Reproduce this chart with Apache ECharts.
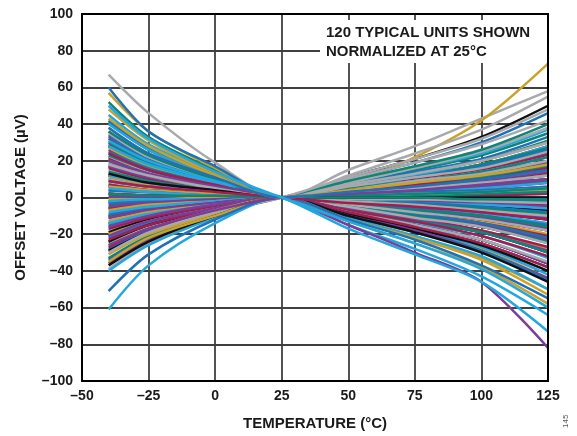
<!DOCTYPE html>
<html><head><meta charset="utf-8">
<script src="https://cdn.jsdelivr.net/npm/echarts@6/dist/echarts.min.js"></script>
<style>html,body{margin:0;padding:0;background:#fff}#c{width:577px;height:436px}</style>
</head><body><div id="c"></div>
<script>
// Temperatures (°C) at which each unit's offset is sampled
const temps = [-40, -25, 0, 25, 50, 75, 100, 125];
const xTicks = [-50, -25, 0, 25, 50, 75, 100, 125];
const yTicks = [-100, -80, -60, -40, -20, 0, 20, 40, 60, 80, 100];

// Offset voltage (µV) per unit, grouped by line colour
const grayUnits = [
 [67,46,19,0,15,28,43,58],[30,19,8,0,12,24,37,55],[22,14,6,0,10,19,29,42],[15,10,4,0,8,16,25,38],
 [8,5,2,0,7,13,20,30],[3,2,1,0,4,9,13,20],[-5,-3,-1,0,3,5,8,12],[-12,-8,-3,0,1,2,3,5],
 [-18,-11,-5,0,-1,-1,-2,-3],[-25,-16,-7,0,-2,-4,-7,-10],[-39,-25,-11,0,-4,-8,-12,-18],[35,22,10,0,-5,-11,-16,-25],
 [10,6,3,0,-8,-15,-23,-35],[-30,-19,-8,0,11,21,32,48],[18,12,5,0,6,11,16,25]];
const blueUnits = [
 [60,36,17,0,10,19,30,46],[42,27,12,0,7,14,21,33],[33,21,9,0,6,11,17,26],[25,16,7,0,4,8,13,20],
 [18,12,5,0,3,5,8,12],[10,6,3,0,1,3,4,6],[4,3,1,0,0,-1,-1,-2],[-3,-2,-1,0,-2,-3,-5,-8],
 [-9,-6,-3,0,-3,-6,-10,-15],[-15,-10,-4,0,-5,-9,-14,-22],[-22,-14,-6,0,-7,-13,-19,-30],[-28,-18,-8,0,-8,-16,-25,-38],
 [-34,-22,-10,0,-10,-19,-29,-45],[-51,-31,-12,0,-12,-23,-37,-55],[38,24,11,0,3,6,10,15]];
const lightBlueUnits = [
 [45,29,13,0,8,16,24,37],[40,26,11,0,6,12,18,28],[36,23,10,0,5,9,14,22],[28,18,8,0,3,6,10,15],
 [20,13,6,0,2,3,5,8],[12,8,3,0,0,0,0,0],[5,3,1,0,-1,-3,-4,-6],[-2,-1,-1,0,-3,-6,-9,-14],
 [-8,-5,-2,0,-6,-11,-16,-25],[-14,-9,-4,0,-7,-14,-21,-33],[-21,-13,-6,0,-9,-18,-27,-42],[-40,-26,-11,0,-11,-21,-32,-50],
 [-61,-37,-14,0,-15,-28,-43,-64],[31,20,9,0,-17,-31,-46,-73],[50,32,14,0,-13,-25,-39,-60]];
const goldUnits = [
 [57,36,16,0,7,22,42,73],[48,31,13,0,7,13,20,30],[38,24,11,0,5,9,14,22],[27,17,8,0,3,5,8,12],
 [19,12,5,0,1,2,3,4],[11,7,3,0,-1,-2,-3,-4],[6,4,2,0,-3,-5,-8,-12],[-1,-1,0,0,-4,-8,-13,-20],
 [-7,-4,-2,0,-6,-12,-18,-28],[-13,-8,-4,0,-8,-15,-23,-36],[-20,-13,-6,0,-10,-18,-28,-44],[-26,-17,-7,0,-11,-21,-33,-50],
 [-31,-20,-9,0,-13,-25,-38,-58],[-35,-22,-10,0,-12,-22,-34,-53],[43,28,12,0,4,8,12,18]];
const tealUnits = [
 [52,33,15,0,8,15,23,35],[41,26,11,0,7,13,20,31],[30,19,8,0,6,11,18,27],[23,15,6,0,5,9,14,22],
 [14,9,4,0,4,7,11,17],[7,4,2,0,2,4,7,10],[1,1,0,0,1,1,2,3],[-4,-3,-1,0,-1,-1,-2,-3],
 [-10,-6,-3,0,-2,-4,-6,-9],[-16,-10,-4,0,-4,-7,-10,-16],[-24,-15,-7,0,-5,-10,-16,-24],[-29,-19,-8,0,-7,-13,-19,-30],
 [-33,-21,-9,0,9,17,26,40],[36,23,10,0,1,2,3,5],[2,1,1,0,0,0,-1,-1]];
const maroonUnits = [
 [32,20,9,0,6,12,18,28],[26,17,7,0,5,10,15,23],[21,13,6,0,4,8,12,18],[16,10,4,0,3,5,8,13],
 [12,8,3,0,2,3,5,8],[7,4,2,0,0,1,1,2],[2,1,1,0,-1,-2,-3,-4],[-3,-2,-1,0,-2,-4,-7,-10],
 [-6,-4,-2,0,-4,-7,-10,-16],[-11,-7,-3,0,-5,-9,-14,-21],[-17,-11,-5,0,-6,-11,-18,-27],[-23,-15,-6,0,-7,-13,-21,-32],
 [-27,-17,-8,0,-8,-16,-25,-38],[24,15,7,0,4,7,10,16],[9,6,3,0,-3,-5,-8,-12]];
const purpleUnits = [
 [34,22,10,0,5,10,16,24],[29,19,8,0,4,8,12,19],[24,15,7,0,3,6,9,14],[17,11,5,0,2,4,6,9],
 [13,8,4,0,1,2,3,4],[9,6,3,0,0,0,0,0],[4,3,1,0,-1,-2,-3,-5],[0,0,0,0,-2,-5,-7,-11],
 [-5,-3,-1,0,-4,-7,-11,-17],[-11,-7,-3,0,-5,-10,-15,-23],[-16,-10,-4,0,-6,-12,-19,-29],[-21,-13,-6,0,-8,-15,-23,-36],
 [-36,-23,-10,0,-10,-18,-29,-44],[20,13,6,0,-15,-30,-46,-82],[-26,-17,-7,0,2,4,7,10]];
const blackUnits = [
 [28,18,8,0,11,21,33,50],[22,14,6,0,6,11,16,25],[17,11,5,0,4,7,11,17],[12,8,3,0,2,4,7,10],
 [6,4,2,0,1,1,2,3],[2,1,1,0,-1,-1,-2,-3],[-2,-1,-1,0,-2,-3,-5,-7],[-6,-4,-2,0,-3,-5,-8,-12],
 [-10,-6,-3,0,-4,-8,-12,-18],[-14,-9,-4,0,-5,-10,-16,-24],[-19,-12,-5,0,-7,-13,-19,-30],[-24,-15,-7,0,-8,-15,-23,-36],
 [-29,-19,-8,0,-9,-17,-26,-40],[-37,-24,-10,0,-10,-19,-30,-46],[13,8,4,0,0,0,0,0]];

const groups = [
  {units: grayUnits, color: '#a7a9ac'},
  {units: blackUnits, color: '#111111'},
  {units: tealUnits, color: '#0f8576'},
  {units: maroonUnits, color: '#a51d4f'},
  {units: purpleUnits, color: '#7b3d97'},
  {units: goldUnits, color: '#c9a12b'},
  {units: blueUnits, color: '#1f72b8'},
  {units: lightBlueUnits, color: '#24a6df'}
];

const series = [];
for (let i = 0; i < 15; i++) {
  groups.forEach(g => {
    const u = g.units[i];
    if (!u) return;
    series.push({
      type: 'line', smooth: 0.3, symbol: 'none', silent: true,
      lineStyle: {color: g.color, width: 2.5},
      data: temps.map((t, k) => [t, u[k]])
    });
  });
}

const fmt = v => String(v).replace('-', '\u2013');
const ff = '"Liberation Sans", Arial, sans-serif';
const tickFont = {fontFamily: ff, fontWeight: 'bold', fontSize: 14, color: '#1a1a1a'};
const titleFont = {fontFamily: ff, fontWeight: 'bold', fontSize: 15, color: '#1a1a1a'};

const chart = echarts.init(document.getElementById('c'));
chart.setOption({
  animation: false,
  grid: {left: 82, right: 29, top: 14, bottom: 54, show: true, borderColor: '#000', borderWidth: 2, z: 5},
  xAxis: {
    type: 'value', min: xTicks[0], max: xTicks[xTicks.length - 1], interval: 25,
    axisLine: {show: false}, axisTick: {show: false},
    axisLabel: Object.assign({formatter: fmt, margin: 8}, tickFont),
    splitLine: {lineStyle: {color: '#404040', width: 1.8}},
    name: 'TEMPERATURE (°C)', nameLocation: 'middle', nameGap: 35,
    nameTextStyle: titleFont
  },
  yAxis: {
    type: 'value', min: yTicks[0], max: yTicks[yTicks.length - 1], interval: 20,
    axisLine: {show: false}, axisTick: {show: false},
    axisLabel: Object.assign({formatter: fmt, margin: 9}, tickFont),
    splitLine: {lineStyle: {color: '#404040', width: 1.8}},
    name: 'OFFSET VOLTAGE (µV)', nameLocation: 'middle', nameGap: 54,
    nameTextStyle: titleFont
  },
  graphic: [
    {type: 'rect', shape: {x: 320, y: 20, width: 227, height: 43}, style: {fill: '#fff'}, z: 10},
    {type: 'text', left: 326, top: 23, z: 11,
     style: {text: '120 TYPICAL UNITS SHOWN\nNORMALIZED AT 25°C', font: 'bold 15px "Liberation Sans", Arial, sans-serif', fill: '#1a1a1a', lineHeight: 19}},
    {type: 'text', x: 562, y: 428, rotation: Math.PI / 2, z: 11,
     style: {text: '145', font: '8px "Liberation Sans", Arial, sans-serif', fill: '#555'}}
  ],
  series: series
});
</script></body></html>
